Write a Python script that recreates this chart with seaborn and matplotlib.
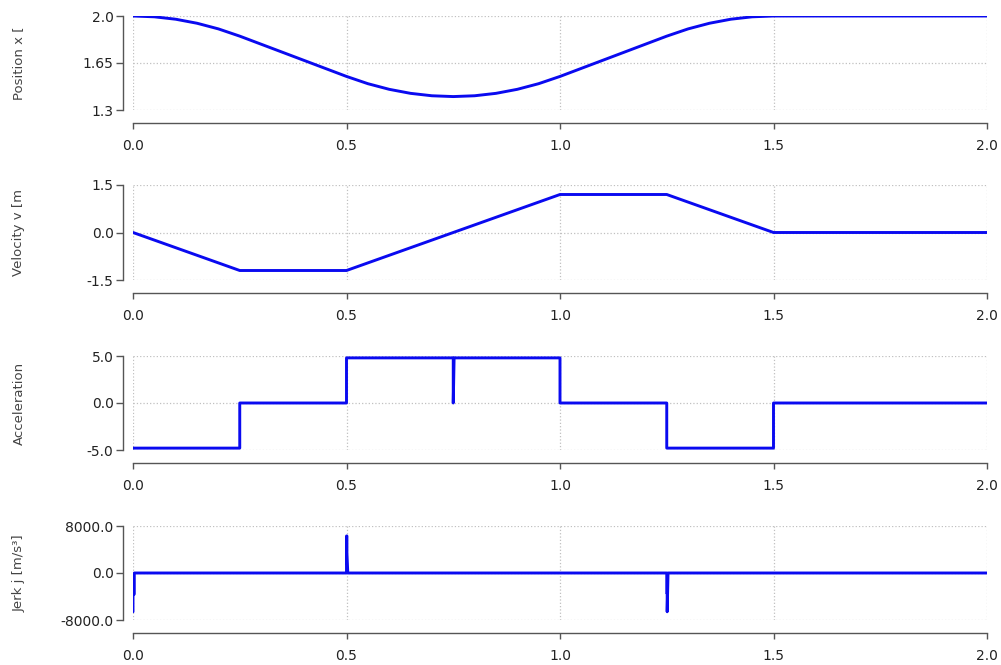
import matplotlib
matplotlib.use("Agg")
import matplotlib.pyplot as plt
import seaborn as sns
import pandas as pd

# ---- data ----
pos_t = [0.0, 0.05, 0.1, 0.15, 0.2, 0.25, 0.3, 0.35, 0.4, 0.45, 0.5,
         0.55, 0.6, 0.65, 0.7, 0.75, 0.8, 0.85, 0.9, 0.95, 1.0,
         1.05, 1.1, 1.15, 1.2, 1.25, 1.3, 1.35, 1.4, 1.45, 1.5, 2.0]
pos_x = [2.0, 1.994, 1.976, 1.946, 1.904, 1.85, 1.79, 1.73, 1.67, 1.61, 1.55,
         1.496, 1.454, 1.424, 1.406, 1.40, 1.406, 1.424, 1.454, 1.496, 1.55,
         1.61, 1.67, 1.73, 1.79, 1.85, 1.904, 1.946, 1.976, 1.994, 2.0, 2.0]

vel_t = [0.0, 0.25, 0.5, 1.0, 1.25, 1.5, 2.0]
vel_v = [0.0, -1.2, -1.2, 1.2, 1.2, 0.0, 0.0]

acc_t = [0.0, 0.25, 0.25, 0.5, 0.5, 0.75, 0.75, 0.752, 1.0, 1.0, 1.25, 1.25, 1.5, 1.5, 2.0]
acc_a = [-4.8, -4.8, 0.0, 0.0, 4.8, 4.8, 0.0, 4.8, 4.8, 0.0, 0.0, -4.8, -4.8, 0.0, 0.0]

jerk_t = [0.0, 0.0, 0.003, 0.003, 0.5, 0.5, 0.501, 0.501, 0.503, 1.25, 1.25, 1.251, 1.251, 1.253, 2.0]
jerk_j = [-6600, -3600, -3600, 0, 0, 6300, 6300, 3400, 0, 0, -3400, -3400, -6600, 0, 0]

ylabels = ["Position x [", "Velocity v [m", "Acceleration", "Jerk j [m/s\u00b3]"]
yticks = [[1.3, 1.65, 2.0], [-1.5, 0.0, 1.5], [-5.0, 0.0, 5.0], [-8000.0, 0.0, 8000.0]]
yticklabels = [["1.3", "1.65", "2.0"], ["-1.5", "0.0", "1.5"],
               ["-5.0", "0.0", "5.0"], ["-8000.0", "0.0", "8000.0"]]
xticks = [0.0, 0.5, 1.0, 1.5, 2.0]
xticklabels = ["0.0", "0.5", "1.0", "1.5", "2.0"]

series = [(pos_t, pos_x), (vel_t, vel_v), (acc_t, acc_a), (jerk_t, jerk_j)]

sns.set_theme(style="white")
plt.rcParams['font.family'] = ['DejaVu Sans']

fig = plt.figure(figsize=(10.01, 6.65), dpi=100)
H = 665.0
W = 1001.0
tops = [16, 185, 356, 526]
bots = [110, 280, 450, 620]
left = 133 / W
width = (987 - 133) / W

for i, (t, y) in enumerate(series):
    ax = fig.add_axes([left, 1 - bots[i] / H, width, (bots[i] - tops[i]) / H])
    df = pd.DataFrame({"t": t, "y": y})
    sns.lineplot(data=df, x="t", y="y", ax=ax, estimator=None, sort=False,
                 color="#0a0af0", linewidth=2.1)
    ax.set_xlim(0, 2.0)
    ax.set_ylim(yticks[i][0], yticks[i][-1])
    ax.set_xticks(xticks)
    ax.set_xticklabels(xticklabels)
    ax.set_yticks(yticks[i])
    ax.set_yticklabels(yticklabels[i])
    ax.grid(True, linestyle=":", color="#c0c0c0", linewidth=0.9)
    ax.set_axisbelow(True)
    for s in ["top", "right"]:
        ax.spines[s].set_visible(False)
    ax.spines["left"].set_position(("outward", 7))
    ax.spines["bottom"].set_position(("outward", 9))
    for s in ["left", "bottom"]:
        ax.spines[s].set_color("#555555")
        ax.spines[s].set_linewidth(1.0)
    ax.tick_params(axis="y", direction="out", length=5, width=1, color="#555555",
                   labelsize=10, labelcolor="#222222", pad=2, left=True)
    ax.tick_params(axis="x", direction="out", length=4, width=1, color="#555555",
                   labelsize=10, labelcolor="#222222", pad=8, bottom=True)
    ax.set_xlabel("")
    ax.set_ylabel(ylabels[i], fontsize=9.5, color="#444444")
    ax.yaxis.set_label_coords(-0.126, 0.5)

fig.savefig("out.png", dpi=100)
